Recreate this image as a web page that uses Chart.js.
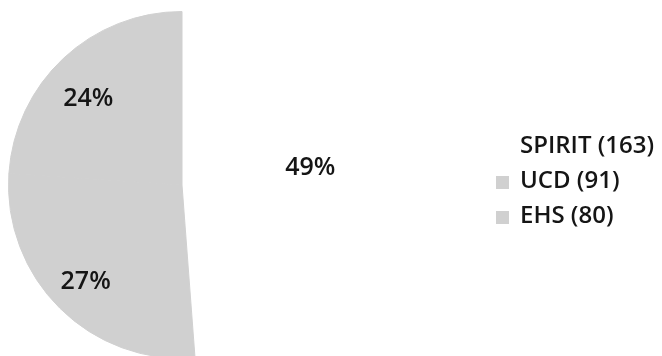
<!DOCTYPE html>
<html>
<head>
<meta charset="utf-8">
<script src="https://cdn.jsdelivr.net/npm/chart.js@4"></script>
<style>
  html, body { margin: 0; padding: 0; background: #ffffff; overflow: hidden; }
  #wrap { position: relative; width: 662px; height: 356px; overflow: hidden; }
  #legend { position: absolute; left: 496px; top: 126px; font-family: "Open Sans", sans-serif; font-size: 24px; font-weight: 600; color: #151515; }
  .row { height: 35px; line-height: 35px; white-space: nowrap; }
  .box { display: inline-block; width: 13px; height: 13px; margin-right: 11px; vertical-align: -1px; }
</style>
</head>
<body>
<div id="wrap">
  <canvas id="pie" width="662" height="362"></canvas>
  <div id="legend"></div>
</div>
<script>
const categories = ["SPIRIT", "UCD", "EHS"];
const counts = [163, 91, 80];
const sliceColors = ["#ffffff", "#d0d0d0", "#d0d0d0"];

const total = counts.reduce((a, b) => a + b, 0);

// small nudges so the percent labels sit where the original put them
const labelNudge = [[0, -12], [-6, 6], [-6, 8]];

const sliceLabels = {
    id: "sliceLabels",
    afterDatasetsDraw(chart) {
        const ctx = chart.ctx;
        const meta = chart.getDatasetMeta(0);
        ctx.save();
        ctx.font = "600 25px 'Open Sans'";
        ctx.fillStyle = "#151515";
        ctx.textAlign = "center";
        ctx.textBaseline = "middle";
        meta.data.forEach((arc, i) => {
            const mid = (arc.startAngle + arc.endAngle) / 2;
            const r = arc.outerRadius * 0.74;
            const pct = Math.round(counts[i] / total * 100) + "%";
            ctx.fillText(pct,
                arc.x + Math.cos(mid) * r + labelNudge[i][0],
                arc.y + Math.sin(mid) * r + labelNudge[i][1]);
        });
        ctx.restore();
    }
};

new Chart(document.getElementById("pie"), {
    type: "pie",
    data: {
        labels: categories,
        datasets: [{
            data: counts,
            backgroundColor: sliceColors,
            borderColor: sliceColors,
            borderWidth: [0, 1, 1]
        }]
    },
    options: {
        responsive: false,
        animation: false,
        layout: { padding: { left: 8, top: 11, right: 306, bottom: 3 } },
        plugins: {
            legend: { display: false },
            tooltip: { enabled: false }
        }
    },
    plugins: [sliceLabels]
});

const legend = document.getElementById("legend");
categories.forEach((name, i) => {
    const row = document.createElement("div");
    row.className = "row";
    const box = document.createElement("span");
    box.className = "box";
    box.style.background = sliceColors[i];
    row.appendChild(box);
    row.appendChild(document.createTextNode(name + " (" + counts[i] + ")"));
    legend.appendChild(row);
});
</script>
</body>
</html>
